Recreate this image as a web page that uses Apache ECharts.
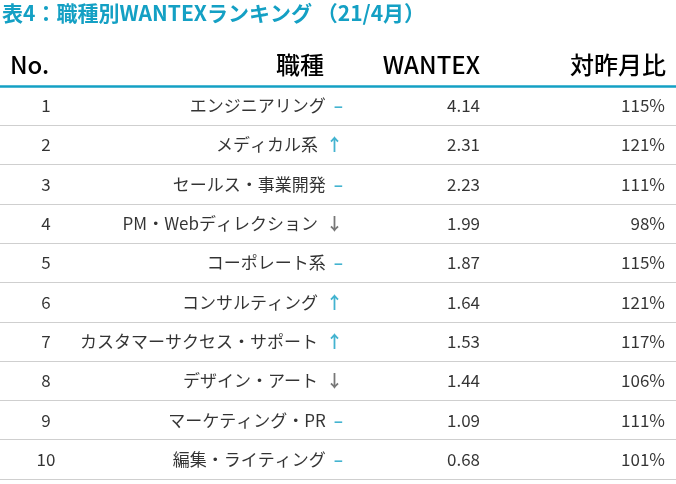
<!DOCTYPE html>
<html><head><meta charset="utf-8">
<script src="https://cdn.jsdelivr.net/npm/echarts@6/dist/echarts.min.js"></script>
<style>html,body{margin:0;padding:0;background:#fff}#c{width:676px;height:484px}</style>
</head><body><div id="c"></div>
<script>
const ranks = ['1','2','3','4','5','6','7','8','9','10'];
const jobs = ['エンジニアリング','メディカル系','セールス・事業開発','PM・Webディレクション','コーポレート系','コンサルティング','カスタマーサクセス・サポート','デザイン・アート','マーケティング・PR','編集・ライティング'];
const trends = ['flat','up','flat','down','flat','up','up','down','flat','flat'];
const wantex = [4.14,2.31,2.23,1.99,1.87,1.64,1.53,1.44,1.09,0.68];
const yoy = [115,121,111,98,115,121,117,106,111,101];
const headers = ['No.','職種','WANTEX','対昨月比'];

const FONT = '"Noto Sans CJK JP", "Noto Sans", sans-serif';
const TEAL = '#14a0c4';
const sym = {flat:'{f|–}', up:'{u|↑}', down:'{d|↓}'};
function col(x, texts, align, rich){
  return {type:'scatter', symbolSize:0, silent:true,
    data: texts.map((t,i)=>({value:[x,i], label:{formatter:t}})),
    label:{show:true, position:'inside', align:align, verticalAlign:'middle', color:'#000', fontSize:17, fontFamily:FONT, rich:rich}};
}
const chart = echarts.init(document.getElementById('c'));
chart.setOption({
  animation:false,
  grid:{left:0,right:0,top:86,bottom:5},
  xAxis:{type:'value',min:0,max:676,position:'top',axisLine:{show:true,lineStyle:{color:TEAL,width:2.5}},axisTick:{show:false},axisLabel:{show:false},splitLine:{show:false}},
  yAxis:{type:'category',inverse:true,data:ranks,boundaryGap:true,axisLine:{show:false},axisTick:{show:false},axisLabel:{show:false},splitLine:{show:true,interval:0,lineStyle:{color:'#cfcfcf',width:1}}},
  graphic:[
    {type:'text',left:2,top:3,style:{text:'表4：職種別WANTEXランキング （21/4月）',fill:TEAL,font:'bold 21px '+FONT}},
    {type:'text',left:10,top:53,style:{text:headers[0],fill:'#000',font:'500 24px '+FONT}},
    {type:'text',right:352,top:53,style:{text:headers[1],fill:'#000',font:'500 24px '+FONT}},
    {type:'text',right:196,top:53,style:{text:headers[2],fill:'#000',font:'500 24px '+FONT}},
    {type:'text',right:10,top:53,style:{text:headers[3],fill:'#000',font:'500 24px '+FONT}}
  ],
  series:[
    col(46, ranks, 'center'),
    col(343, jobs.map((j,i)=>j+sym[trends[i]]), 'right',
      {f:{color:TEAL,fontSize:17,fontWeight:'bold',padding:[0,0,0,8]},u:{color:TEAL,fontSize:17,fontWeight:'bold',padding:[0,0,0,8]},d:{color:'#555',fontSize:17,fontWeight:'bold',padding:[0,0,0,8]}}),
    col(480, wantex.map(v=>v.toFixed(2)), 'right'),
    col(665, yoy.map(v=>v+'%'), 'right')
  ]
});
</script></body></html>
